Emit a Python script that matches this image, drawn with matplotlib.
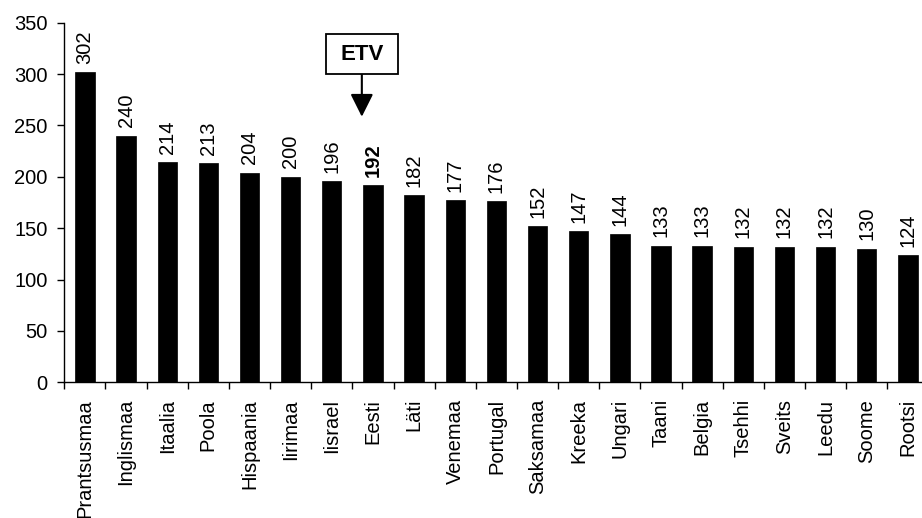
import matplotlib
matplotlib.use("Agg")
import matplotlib.pyplot as plt
from matplotlib.patches import Rectangle
import numpy as np

plt.rcParams['font.family'] = ['Liberation Sans', 'DejaVu Sans']

countries = ["Prantsusmaa", "Inglismaa", "Itaalia", "Poola", "Hispaania", "Iirimaa",
             "Iisrael", "Eesti", "Läti", "Venemaa", "Portugal", "Saksamaa", "Kreeka",
             "Ungari", "Taani", "Belgia", "Tsehhi", "Sveits", "Leedu", "Soome", "Rootsi"]
values = [302, 240, 214, 213, 204, 200, 196, 192, 182, 177, 176, 152, 147, 144,
          133, 133, 132, 132, 132, 130, 124]
highlight = "Eesti"
callout_text = "ETV"
yticks = [0, 50, 100, 150, 200, 250, 300, 350]

W, H = 922, 518
fig = plt.figure(figsize=(W / 100, H / 100), dpi=100)
left_px, right_px = 64.3, 928.5
bottom_px, top_px = 382.3, 22.7
ax = fig.add_axes([left_px / W, (H - bottom_px) / H,
                   (right_px - left_px) / W, (bottom_px - top_px) / H])

n = len(countries)
x = np.arange(n)
ax.bar(x, values, width=0.47, color='black', edgecolor='black', linewidth=0.5)
ax.set_xlim(-0.5, n - 0.5)
ax.set_ylim(0, 350)

for s in ['top', 'right']:
    ax.spines[s].set_visible(False)
for s in ['left', 'bottom']:
    ax.spines[s].set_linewidth(1.0)
    ax.spines[s].set_color('black')

fs = 14.5
ax.set_yticks(yticks)
ax.tick_params(axis='y', direction='out', length=5, width=1, labelsize=fs, pad=7)

ax.set_xticks(np.arange(n + 1) - 0.5)
ax.set_xticklabels([])
ax.tick_params(axis='x', which='major', direction='out', length=5, width=1)
ax.set_xticks(x, minor=True)
ax.set_xticklabels(countries, minor=True, rotation=90, fontsize=fs)
ax.tick_params(axis='x', which='minor', length=0, pad=12)

for xi, v, c in zip(x, values, countries):
    ax.annotate(str(v), xy=(xi, v), xytext=(0, 6), textcoords='offset points',
                ha='center', va='bottom', rotation=90, fontsize=fs,
                fontweight='bold' if c == highlight else 'normal')

# callout box with arrow
hi = countries.index(highlight)
ax_x = hi - 0.27
box_l, box_r = hi - 1.14, hi + 0.61
box_b, box_t = 300, 339
ax.add_patch(Rectangle((box_l, box_b), box_r - box_l, box_t - box_b,
                       facecolor='white', edgecolor='black', linewidth=1.3,
                       clip_on=False, zorder=5))
ax.text((box_l + box_r) / 2, (box_b + box_t) / 2, callout_text, ha='center',
        va='center', fontsize=16, fontweight='bold', zorder=6)
ax.annotate('', xy=(ax_x, 258.5), xytext=(ax_x, box_b),
            arrowprops=dict(arrowstyle='-|>,head_length=0.7,head_width=0.35',
                            mutation_scale=20, lw=1.5, color='black',
                            shrinkA=0, shrinkB=0))

fig.savefig('out.png', dpi=100)
